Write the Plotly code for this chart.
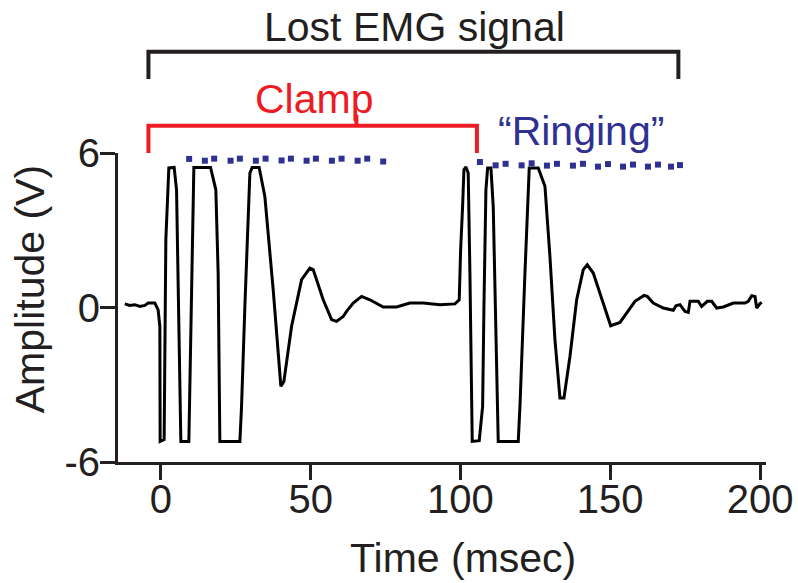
import plotly.graph_objects as go

# ---- Data ----
time_ms = [-12.02, -10.35, -8.68, -7.01, -5.34, -4.24, -2.00, -0.90, -0.33, -0.23,
           1.10, 1.34, 1.67, 2.67, 4.44, 5.24, 6.34, 6.68, 9.35, 9.92,
           10.58, 11.02, 16.59, 18.36, 19.13, 19.70, 26.38, 26.94, 28.05, 29.72,
           30.48, 32.82, 34.72, 37.50, 40.07, 41.07, 43.64, 46.98, 49.75, 50.85,
           54.19, 56.99, 58.66, 60.87, 62.00, 64.21, 67.01, 69.78, 74.22, 78.70,
           83.14, 87.58, 93.16, 98.16, 99.60, 100.07, 100.73, 101.17, 101.84, 102.60,
           103.17, 103.94, 106.28, 107.41, 107.85, 108.51, 109.08, 110.18, 110.95, 111.75,
           112.62, 119.30, 119.87, 121.54, 122.97, 125.98, 128.21, 129.88, 131.55, 133.22,
           134.56, 136.56, 138.80, 141.00, 142.34, 144.34, 147.68, 150.15, 153.26, 155.48,
           158.26, 161.27, 162.37, 164.37, 167.71, 171.05, 171.95, 173.29, 174.96, 176.06,
           176.63, 179.40, 180.53, 182.40, 183.87, 185.54, 187.75, 191.09, 194.99, 196.09,
           197.23, 198.33, 198.90, 200.00, 200.57]
amplitude_v = [0.14, 0.08, 0.11, 0.04, 0.08, 0.17, 0.17, -0.09, -0.73, -5.20,
               -5.13, -1.25, 2.63, 5.42, 5.44, 4.57, -2.53, -5.20, -5.20, -1.25,
               3.93, 5.44, 5.44, 4.57, 1.34, -5.20, -5.20, -3.84, 0.04, 5.22,
               5.44, 5.44, 4.31, 0.69, -3.06, -2.87, -0.73, 1.08, 1.53, 1.47,
               0.30, -0.47, -0.54, -0.35, -0.15, 0.17, 0.43, 0.30, 0.02, 0.02,
               0.17, 0.17, 0.11, 0.14, 0.30, 2.24, 3.93, 5.35, 5.46, 5.22,
               1.34, -5.20, -5.17, -3.84, 0.04, 4.57, 5.42, 5.42, 3.93, 0.04,
               -5.20, -5.20, -3.84, 1.34, 5.42, 5.42, 4.71, 1.98, -1.25, -3.51,
               -3.51, -1.90, 0.30, 1.47, 1.66, 1.34, 0.17, -0.71, -0.58, -0.21,
               0.24, 0.47, 0.43, 0.17, -0.02, -0.11, 0.07, 0.11, -0.15, -0.19,
               0.24, 0.24, 0.04, 0.24, 0.24, -0.02, 0.02, 0.17, 0.17, 0.24,
               0.46, 0.43, -0.02, 0.15, 0.20]

ringing_t = [9.45, 14.69, 17.80, 23.27, 26.38, 31.72, 34.96, 40.30, 43.41, 48.65,
             51.75, 57.10, 60.33, 65.68, 68.88, 74.22,
             106.51, 111.75, 115.09, 120.43, 123.77, 128.88, 132.22, 137.56, 140.90,
             145.91, 149.25, 154.26, 157.60, 162.60, 165.94, 170.28, 173.29]
ringing_v = [5.77, 5.70, 5.78, 5.70, 5.78, 5.70, 5.78, 5.71, 5.78, 5.70,
             5.78, 5.70, 5.78, 5.70, 5.78, 5.67,
             5.65, 5.52, 5.58, 5.52, 5.60, 5.51, 5.58, 5.51, 5.58,
             5.47, 5.57, 5.47, 5.55, 5.47, 5.55, 5.47, 5.53]

x_ticks = [0, 50, 100, 150, 200]
y_ticks = [-6, 0, 6]
y_tick_text = ["-6", "0", "6"]

FONT = "Liberation Sans, Arial, Helvetica, sans-serif"
BLACK = "#231f20"
RED = "#ed1c24"
BLUE = "#2e3192"

fig = go.Figure()
fig.add_trace(go.Scatter(x=time_ms, y=amplitude_v, mode="lines",
                         line=dict(color="black", width=3), showlegend=False,
                         hoverinfo="skip"))
fig.add_trace(go.Scatter(x=ringing_t, y=ringing_v, mode="markers",
                         marker=dict(symbol="square", size=6, color=BLUE,
                                     line=dict(width=0)),
                         showlegend=False, cliponaxis=False, hoverinfo="skip"))

# Brackets (x in data units, y in paper units)
def bracket(x0, x1, ytop, ybot, color, mid=None, mid_top=None):
    path = f"M {x0},{ybot} L {x0},{ytop} L {x1},{ytop} L {x1},{ybot}"
    if mid is not None:
        path += f" M {mid},{ytop} L {mid},{mid_top}"
    return dict(type="path", path=path, xref="x", yref="paper",
                line=dict(color=color, width=4), layer="above")

shapes = [
    bracket(-4.14, 172.75, 1.328, 1.2395, BLACK),
    bracket(-4.14, 105.51, 1.0884, 1.0, RED, mid=65.28, mid_top=1.124),
]

annotations = [
    dict(text="Lost EMG signal", x=84.8, y=1.407, xref="x", yref="paper",
         showarrow=False, xanchor="center", yanchor="middle",
         font=dict(family=FONT, size=41, color=BLACK)),
    dict(text="Clamp", x=51.1, y=1.1757, xref="x", yref="paper",
         showarrow=False, xanchor="center", yanchor="middle",
         font=dict(family=FONT, size=41, color=RED)),
    dict(text="\u201cRinging\u201d", x=140.4, y=1.070, xref="x", yref="paper",
         showarrow=False, xanchor="center", yanchor="middle",
         font=dict(family=FONT, size=41, color=BLUE)),
    dict(text="Time (msec)", x=100.8, y=-0.312, xref="x", yref="paper",
         showarrow=False, xanchor="center", yanchor="middle",
         font=dict(family=FONT, size=41, color=BLACK)),
    dict(text="Amplitude (V)", x=-0.1358, y=0.559, xref="paper", yref="paper",
         showarrow=False, xanchor="center", yanchor="middle", textangle=-90,
         font=dict(family=FONT, size=41, color=BLACK)),
]

fig.update_layout(
    width=798, height=583,
    margin=dict(l=118, r=32, t=153, b=121, autoexpand=False),
    paper_bgcolor="white", plot_bgcolor="white",
    font=dict(family=FONT, color=BLACK),
    shapes=shapes, annotations=annotations,
    xaxis=dict(range=[-14.3, 202.0], tickvals=x_ticks, showgrid=False,
               zeroline=False, showline=True, linewidth=3, linecolor=BLACK,
               ticks="outside", ticklen=15, tickwidth=3, tickcolor=BLACK,
               ticklabelstandoff=-15,
               tickfont=dict(family=FONT, size=40, color=BLACK)),
    yaxis=dict(range=[-6, 6], tickvals=y_ticks, ticktext=y_tick_text,
               showgrid=False, zeroline=False, showline=True, linewidth=3,
               linecolor=BLACK, ticks="outside", ticklen=15, tickwidth=3,
               tickcolor=BLACK, ticklabelstandoff=-8,
               tickfont=dict(family=FONT, size=40, color=BLACK)),
)

fig.write_html("out.html")
